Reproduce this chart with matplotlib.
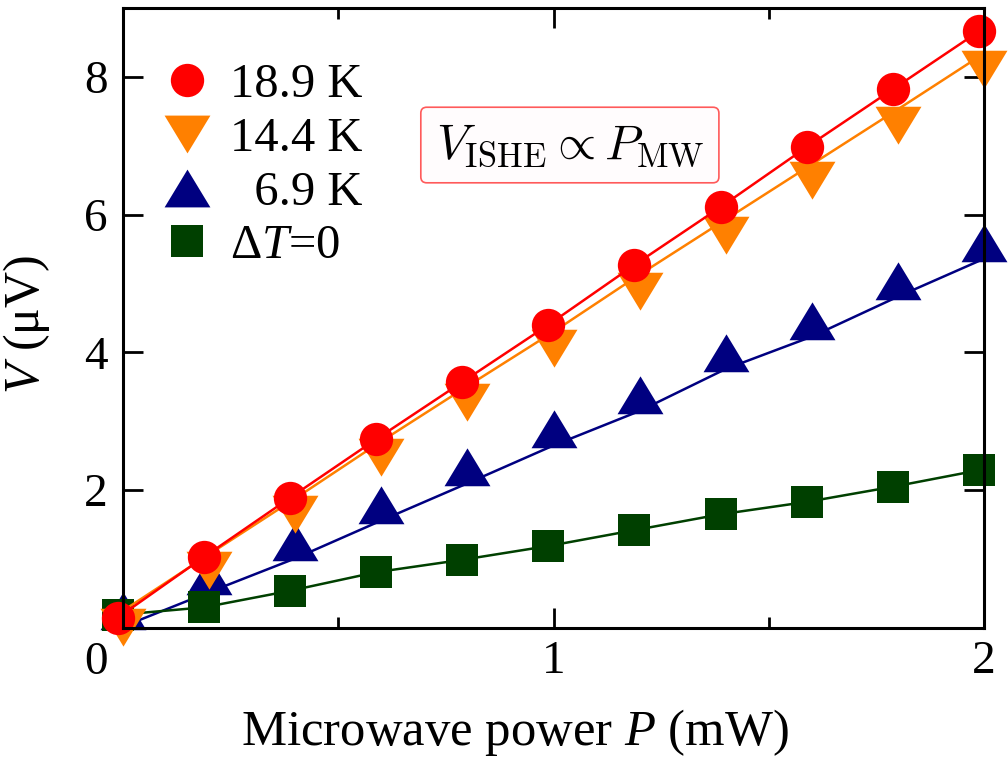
import matplotlib
matplotlib.use("Agg")
import matplotlib.pyplot as plt
from matplotlib.lines import Line2D

plt.rcParams['font.family'] = ['Liberation Serif', 'DejaVu Serif']
plt.rcParams['mathtext.fontset'] = 'custom'
plt.rcParams['mathtext.rm'] = 'Liberation Serif'
plt.rcParams['mathtext.it'] = 'Liberation Serif:italic'
plt.rcParams['mathtext.bf'] = 'Liberation Serif:bold'

# Microwave power (mW) for each series
p_a = [-0.012, 0.188, 0.388, 0.588, 0.788, 0.988, 1.188, 1.388, 1.588, 1.788, 1.988]
p_b = [0.0, 0.2, 0.4, 0.6, 0.8, 1.0, 1.2, 1.4, 1.6, 1.8, 2.0]

# Voltage (uV)
v_189 = [0.15, 1.03, 1.89, 2.74, 3.57, 4.40, 5.27, 6.11, 6.98, 7.82, 8.66]
v_144 = [0.25, 1.07, 1.88, 2.71, 3.51, 4.30, 5.13, 5.93, 6.73, 7.53, 8.34]
v_69 = [0.02, 0.52, 1.01, 1.56, 2.10, 2.65, 3.15, 3.76, 4.23, 4.81, 5.36]
v_dt0 = [0.19, 0.30, 0.54, 0.81, 0.99, 1.19, 1.42, 1.65, 1.83, 2.05, 2.29]

labels = ['18.9 K', '14.4 K', '  6.9 K', r'$\Delta T$=0']
colors = ['#ff0000', '#ff8000', '#000080', '#004000']

# triangles sitting on the data point (line runs along the flat side)
tri_up = [(-1, -0.12), (1, -0.12), (0, 1.53)]
tri_dn = [(-1, 0.12), (1, 0.12), (0, -1.53)]
# centred triangles for the legend
leg_up = [(-1, -0.825), (1, -0.825), (0, 0.825)]
leg_dn = [(-1, 0.825), (1, 0.825), (0, -0.825)]

fig = plt.figure(figsize=(10.08, 7.58), dpi=100)
ax = fig.add_axes([123 / 1008, 130 / 758, 861 / 1008, 620 / 758])

lw = 1.8
ax.plot(p_b, v_69, color=colors[2], lw=lw, marker=tri_up, ms=50.6, mew=0,
        zorder=3, clip_on=False)
ax.plot(p_a, v_dt0, color=colors[3], lw=lw, marker='s', ms=23, mew=0,
        zorder=3, clip_on=False)
ax.plot(p_b, v_144, color=colors[1], lw=lw, marker=tri_dn, ms=50.6, mew=0,
        zorder=4, clip_on=False)
ax.plot(p_a, v_189, color=colors[0], lw=lw, marker='o', ms=24, mew=0,
        zorder=5, clip_on=False)

ax.set_xlim(0, 2)
ax.set_ylim(0, 9)
ax.set_xticks([1, 2])
ax.set_xticks([0.5, 1.5], minor=True)
ax.set_yticks([2, 4, 6, 8])
ax.tick_params(which='both', direction='in', top=True, right=True,
               width=2, labelsize=34)
ax.tick_params(which='major', length=14.5, pad=9)
ax.tick_params(axis='y', which='major', pad=11)
ax.tick_params(which='minor', length=8)
for s in ax.spines.values():
    s.set_linewidth(2.2)
    s.set_zorder(6)

# shared origin label
ax.text(-0.031, -0.056, '0', transform=ax.transAxes, fontsize=34,
        ha='center', va='center')

ax.set_xlabel('Microwave power $P$ (mW)', fontsize=36.5)
ax.xaxis.set_label_coords(0.455, -0.128)
ax.set_ylabel(r'$V$ (μV)', fontsize=36)
ax.yaxis.set_label_coords(-0.082, 0.49)

handles = [
    Line2D([], [], ls='none', marker='o', ms=24, mew=0, color=colors[0]),
    Line2D([], [], ls='none', marker=leg_dn, ms=33, mew=0, color=colors[1]),
    Line2D([], [], ls='none', marker=leg_up, ms=33, mew=0, color=colors[2]),
    Line2D([], [], ls='none', marker='s', ms=23, mew=0, color=colors[3]),
]
ax.legend(handles, labels, loc='upper left', bbox_to_anchor=(0.046, 0.911),
          borderaxespad=0, frameon=False, fontsize=35, handlelength=1.0,
          handletextpad=0.38, labelspacing=0.2, borderpad=0)

ax.text(0.519, 0.779, r'$V_{\rm ISHE} \propto P_{\rm MW}$', transform=ax.transAxes,
        fontsize=35.5, math_fontfamily='cm', ha='center', va='center',
        bbox=dict(boxstyle='round,pad=0.3,rounding_size=0.12', fc='#fffcfd',
                  ec='#ff5a5a', lw=1.2))

fig.savefig('out.png', dpi=100)
